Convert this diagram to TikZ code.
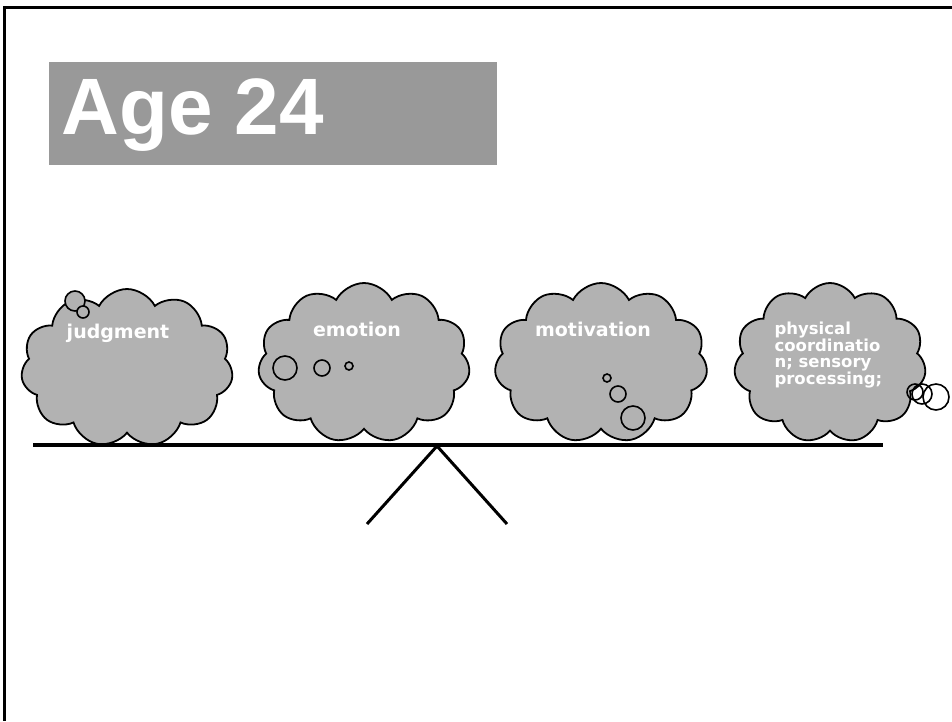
\documentclass[tikz,border=0pt]{standalone}
\usepackage{fontspec}
\setmainfont{DejaVu Sans}
\newfontfamily\titlefont{Liberation Sans}
\usepackage{tikz}
\usetikzlibrary{shapes.symbols,positioning}

\begin{document}
\begin{tikzpicture}[
    x=1pt, y=-1pt,
    cloudbox/.style={cloud, cloud puffs=11, cloud puff arc=125, aspect=1.35, draw=black, line width=1.8pt, fill=black!30, inner sep=0pt},
    bubble/.style={circle, draw=black, line width=1.6pt, fill=black!30, inner sep=0pt},
    label/.style={text=white, font=\bfseries\fontsize{19}{19}\selectfont},
    bar/.style={line width=4pt},
    leg/.style={line width=3pt}
]
    \useasboundingbox (0,0) rectangle (952,721);
    \draw[line width=3pt] (952,7) -- (4,7) -- (4,721);

    \node[fill=black!40, minimum width=448pt, minimum height=103pt, anchor=north west] (titlebox) at (49,62) {};
    \node[text=white, font=\titlefont\bfseries\fontsize{80}{80}\selectfont, anchor=base west] (title) at (58,134) {Age 24};

    \node[cloudbox, minimum width=212pt, minimum height=158pt] (judgmentcloud) at (127,368) {};
    \node[cloudbox, minimum width=212pt, minimum height=160pt] (emotioncloud) at (364,363) {};
    \node[cloudbox, minimum width=213pt, minimum height=160pt] (motivationcloud) at (601,363) {};
    \node[cloudbox, minimum width=192pt, minimum height=160pt] (physicalcloud) at (830,363) {};

    \node[bubble, minimum size=20pt] (jb1) at (75,301) {};
    \node[bubble, minimum size=12pt] (jb2) at (83,312) {};
    \node[bubble, minimum size=24pt] (eb1) at (285,368) {};
    \node[bubble, minimum size=16pt] (eb2) at (322,368) {};
    \node[bubble, minimum size=8pt] (eb3) at (349,366) {};
    \node[bubble, minimum size=8pt] (mb1) at (607,378) {};
    \node[bubble, minimum size=16pt] (mb2) at (618,394) {};
    \node[bubble, minimum size=24pt, fill=none] (mb3) at (633,418) {};
    \node[bubble, minimum size=16pt, fill=none] (pb1) at (915,392) {};
    \node[bubble, minimum size=20pt, fill=none] (pb2) at (922,394) {};
    \node[bubble, minimum size=26pt, fill=none] (pb3) at (936,397) {};

    \node[label] (judgment) at (118,333) {judgment};
    \node[label] (emotion) at (357,329) {emotion};
    \node[label] (motivation) at (593,329) {motivation};
    \node[label, font=\bfseries\fontsize{16.5}{16}\selectfont, align=left, anchor=north west] (physical) at (771,318) {physical\\coordinatio\\n; sensory\\processing;};

    \coordinate (beamL) at (33,445);
    \coordinate (beamR) at (883,445);
    \coordinate (pivot) at (437,446);
    \coordinate (footL) at (367,524);
    \coordinate (footR) at (507,524);

    \draw[bar] (beamL) -- (beamR);
    \draw[leg] (pivot) -- (footL);
    \draw[leg] (pivot) -- (footR);
\end{tikzpicture}
\end{document}
